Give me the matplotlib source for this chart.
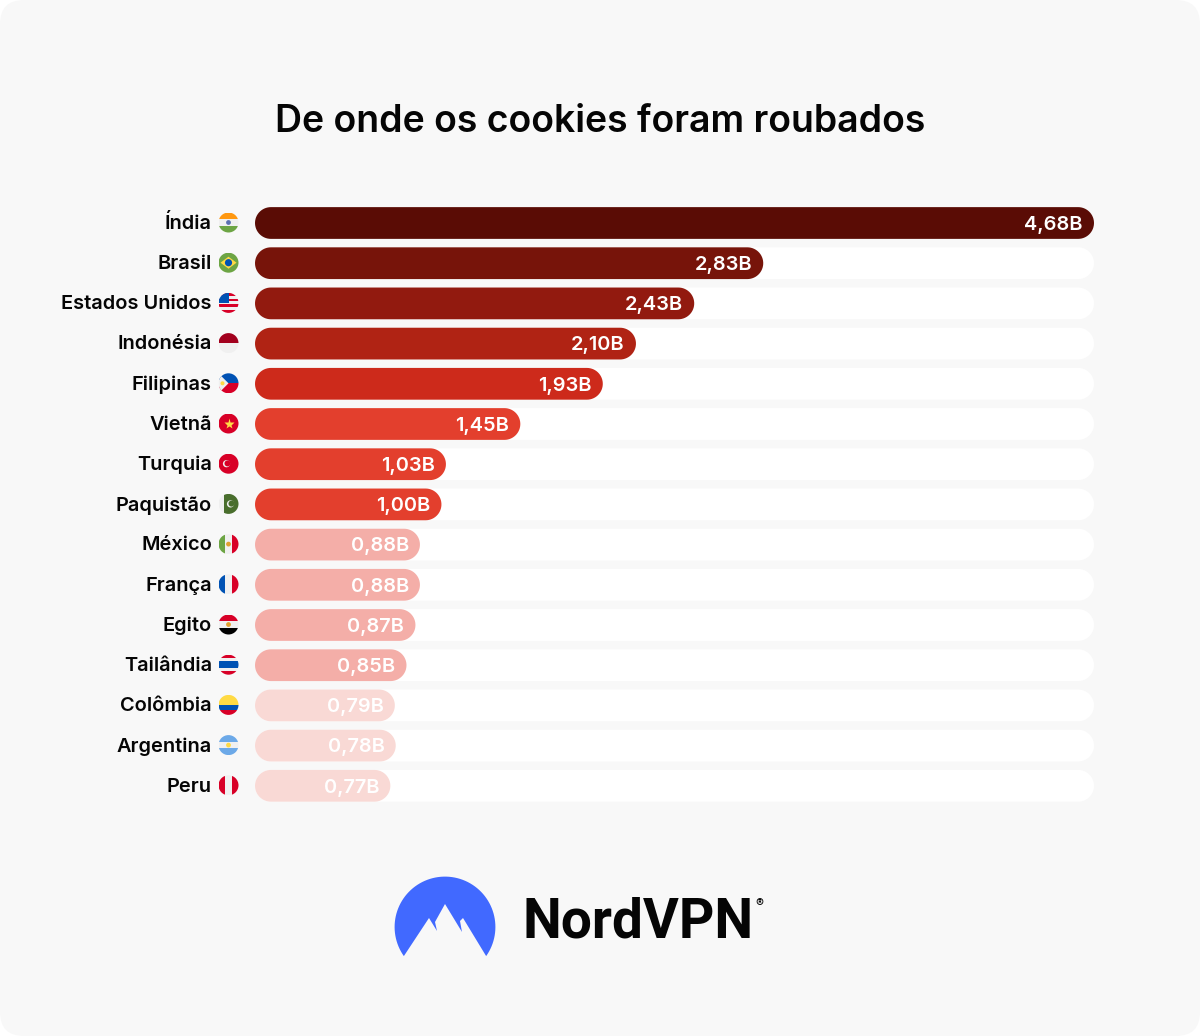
import numpy as np
import matplotlib
matplotlib.use('Agg')
import matplotlib.pyplot as plt
from matplotlib.patches import FancyBboxPatch, Circle, Rectangle, Polygon
from matplotlib.transforms import ScaledTranslation

plt.rcParams['font.family'] = ['Inter', 'DejaVu Sans']

W, H = 1200, 1036

countries = ['Índia', 'Brasil', 'Estados Unidos', 'Indonésia', 'Filipinas', 'Vietnã', 'Turquia', 'Paquistão',
             'México', 'França', 'Egito', 'Tailândia', 'Colômbia', 'Argentina', 'Peru']
value_labels = ['4,68B', '2,83B', '2,43B', '2,10B', '1,93B', '1,45B', '1,03B', '1,00B',
                '0,88B', '0,88B', '0,87B', '0,85B', '0,79B', '0,78B', '0,77B']
# bar lengths as drawn in the picture, they do not follow the labels exactly
bar_lengths = [4.68, 2.835, 2.45, 2.125, 1.94, 1.48, 1.065, 1.04, 0.92, 0.92, 0.895, 0.845, 0.78, 0.785, 0.755]
bar_colors = ['#5a0c05', '#77140a', '#921a0f', '#b02314', '#cd2a1b', '#e33f2d', '#e33f2d', '#e33f2d',
              '#f4aea8', '#f4aea8', '#f4aea8', '#f4aea8', '#f9d9d5', '#f9d9d5', '#f9d9d5']

# stripes of each flag, top to bottom or left to right
flag_h = {'Índia': ['#ff9811', '#f0f0f0', '#6da544'],
          'Indonésia': ['#a2001d', '#f0f0f0'],
          'Egito': ['#d80027', '#f0f0f0', '#000000'],
          'Tailândia': ['#d80027', '#f0f0f0', '#0052b4', '#0052b4', '#f0f0f0', '#d80027'],
          'Colômbia': ['#ffda44', '#ffda44', '#0052b4', '#d80027'],
          'Argentina': ['#6ca9e8', '#f0f0f0', '#6ca9e8'],
          'Estados Unidos': ['#d80027', '#f0f0f0', '#d80027', '#f0f0f0', '#d80027', '#f0f0f0', '#d80027'],
          'Filipinas': ['#0052b4', '#d80027'],
          'Brasil': ['#6da544'],
          'Vietnã': ['#d80027'],
          'Turquia': ['#d80027']}
flag_v = {'México': ['#6da544', '#f0f0f0', '#d80027'],
          'França': ['#0052b4', '#f0f0f0', '#d80027'],
          'Peru': ['#d80027', '#f0f0f0', '#d80027'],
          'Paquistão': ['#f0f0f0', '#496e2d', '#496e2d', '#496e2d']}
flag_dot = {'Índia': '#5a70b0', 'México': '#e0a030', 'Egito': '#e0a030', 'Argentina': '#ffda44'}


fig = plt.figure(figsize=(W / 100, H / 100), dpi=100, facecolor='white')

# background layer in pixels, holds the card, flags and logo
bg = fig.add_axes([0, 0, 1, 1], zorder=0)
bg.set_xlim(0, W)
bg.set_ylim(H, 0)
bg.axis('off')
bg.add_patch(FancyBboxPatch((0, 0), W, H, boxstyle='round,pad=0,rounding_size=24', fc='#f8f8f8', ec='none'))

row_top = 223
row_step = 40.2
ax = fig.add_axes([255 / W, 1 - (row_top + 14.5 * row_step) / H, 839 / W, 15 * row_step / H], zorder=1)
ax.patch.set_alpha(0)
xmax = 4.68
ax.set_xlim(0, xmax)
ax.set_ylim(14.5, -0.5)
for s in ax.spines.values():
    s.set_visible(False)
ax.set_xticks([])
ax.set_yticks(range(len(countries)))
ax.set_yticklabels(countries, fontsize=14.4, fontweight=600, color='#050505')
ax.tick_params(axis='y', length=0, pad=31)
for lab in ax.get_yticklabels():
    lab.set_transform(lab.get_transform() + ScaledTranslation(0, 0.8 / 72, fig.dpi_scale_trans))

bar_h = 0.79
rad = 15.9 / (839 / xmax)
t = np.linspace(-np.pi / 2, np.pi / 2, 30)


def pill(length, row, color):
    # half circles in pixels, so the ends stay round in the stretched axes
    right = np.column_stack([length - rad + rad * np.cos(t), row + bar_h / 2 * np.sin(t)])
    left = np.column_stack([rad - rad * np.cos(t[::-1]), row + bar_h / 2 * np.sin(t[::-1])])
    ax.add_patch(Polygon(np.vstack([right, left]), closed=True, fc=color, ec='none'))


for i, (v, c, txt) in enumerate(zip(bar_lengths, bar_colors, value_labels)):
    pill(xmax, i, 'white')
    pill(v, i, c)
    ax.annotate(txt, (v, i), xytext=(-8, -1.3), textcoords='offset points', ha='right', va='center',
                fontsize=14.4, fontweight=600, color='white')


def draw_flag(name, cy):
    cx, r = 228.5, 10
    clip = Circle((cx, cy), r, transform=bg.transData)
    parts = []
    if name in flag_h:
        st = flag_h[name]
        for k, c in enumerate(st):
            parts.append(Rectangle((cx - r, cy - r + 2 * r * k / len(st)), 2 * r, 2 * r / len(st), fc=c, ec='none'))
    if name in flag_v:
        st = flag_v[name]
        for k, c in enumerate(st):
            parts.append(Rectangle((cx - r + 2 * r * k / len(st), cy - r), 2 * r / len(st), 2 * r, fc=c, ec='none'))
    if name == 'Estados Unidos':
        parts.append(Rectangle((cx - r, cy - r), r, r, fc='#0052b4', ec='none'))
    if name == 'Filipinas':
        parts.append(Polygon([(cx - r, cy - r), (cx, cy), (cx - r, cy + r)], fc='#f0f0f0', ec='none'))
        parts.append(Circle((cx - 6, cy), 2, fc='#ffda44', ec='none'))
    if name == 'Brasil':
        parts.append(Polygon([(cx - 8, cy), (cx, cy - 6), (cx + 8, cy), (cx, cy + 6)], fc='#ffda44', ec='none'))
        parts.append(Circle((cx, cy), 3.6, fc='#0052b4', ec='none'))
    if name in ('Turquia', 'Paquistão'):
        off = -1 if name == 'Turquia' else 3
        back = '#d80027' if name == 'Turquia' else '#496e2d'
        parts.append(Circle((cx - 1 + off, cy), 3.6, fc='#f0f0f0', ec='none'))
        parts.append(Circle((cx + off, cy - 0.3), 3, fc=back, ec='none'))
    if name in flag_dot:
        parts.append(Circle((cx, cy), 2.4, fc=flag_dot[name], ec='none'))
    for p in parts:
        bg.add_patch(p)
        p.set_clip_path(clip)
    if name == 'Vietnã':
        bg.plot([cx], [cy], marker='*', ms=8, mfc='#ffda44', mec='none')


for i, name in enumerate(countries):
    draw_flag(name, row_top - 0.5 + i * row_step)

bg.text(600, 122, 'De onde os cookies foram roubados', ha='center', va='center', fontsize=26.9,
        fontweight=600, color='#050505')

# logo
theta = np.linspace(np.arctan2(29, 41), np.arctan2(29, -41) - 2 * np.pi, 80)
arc = [(445 + 50.4 * np.cos(a), 927 + 50.4 * np.sin(a)) for a in theta]
ridge = [(429, 918), (437, 931), (435, 922), (445, 904), (462, 932), (460, 921), (463, 918)]
bg.add_patch(Polygon(arc + ridge, closed=True, fc='#4169ff', ec='none'))
bg.text(523, 938, 'NordVPN', ha='left', va='baseline', fontsize=39.6, fontweight=700, color='#050505',
        family='Roboto')
bg.text(759, 904, '®', ha='center', va='center', fontsize=8.5, color='#050505')

fig.savefig('out.png', dpi=100, facecolor=fig.get_facecolor())
